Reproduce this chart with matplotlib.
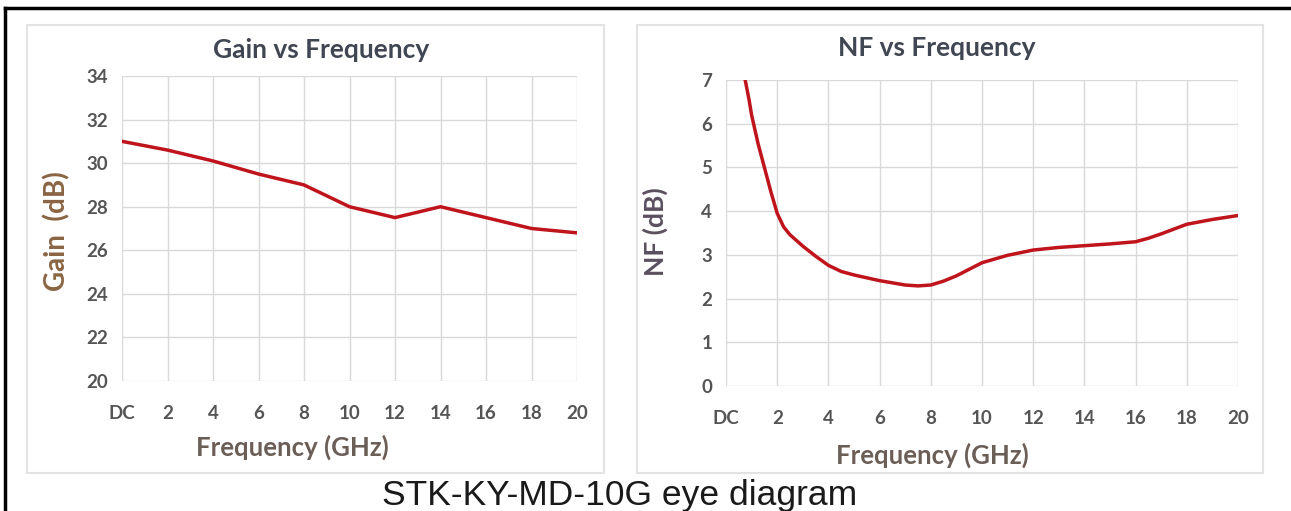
import matplotlib
matplotlib.use("Agg")
import matplotlib.pyplot as plt
from matplotlib.patches import Rectangle
from matplotlib.lines import Line2D

# ---- data ----
freq_ticks = [0, 2, 4, 6, 8, 10, 12, 14, 16, 18, 20]
freq_labels = ["DC", "2", "4", "6", "8", "10", "12", "14", "16", "18", "20"]

gain_freq = [0, 2, 4, 6, 8, 10, 12, 14, 16, 18, 20]
gain_db = [31.0, 30.6, 30.1, 29.5, 29.0, 28.0, 27.5, 28.0, 27.5, 27.0, 26.8]
gain_yticks = [20, 22, 24, 26, 28, 30, 32, 34]

nf_freq = [0.75, 0.9, 1.0, 1.25, 1.5, 1.75, 2.0, 2.25, 2.5, 3.0, 3.5, 4.0, 4.5, 5.0,
           6.0, 7.0, 7.5, 8.0, 8.5, 9.0, 10.0, 11.0, 12.0, 13.0, 14.0, 15.0,
           16.0, 16.5, 17.0, 18.0, 19.0, 20.0]
nf_db = [7.0, 6.55, 6.2, 5.55, 5.0, 4.45, 3.95, 3.64, 3.46, 3.2, 2.97, 2.76, 2.62, 2.54,
         2.41, 2.31, 2.29, 2.31, 2.4, 2.52, 2.82, 2.99, 3.11, 3.17, 3.21, 3.25,
         3.3, 3.38, 3.48, 3.7, 3.81, 3.9]
nf_yticks = [0, 1, 2, 3, 4, 5, 6, 7]

W, H = 1291, 511
fig = plt.figure(figsize=(W / 100, H / 100), dpi=100)
fig.patch.set_facecolor("white")

def fx(x):
    return x / W

def fy(y):
    return 1 - y / H

# black frame lines (top and left)
fig.add_artist(Line2D([fx(5), 1.0], [fy(8), fy(8)], color="black", lw=2.5, zorder=5))
fig.add_artist(Line2D([fx(5), fx(5)], [fy(8), 0.0], color="black", lw=2.5, zorder=5))

# panel borders
for (x0, y0, x1, y1) in [(27, 25, 604, 473), (637, 25, 1263, 473)]:
    fig.add_artist(Rectangle((fx(x0), fy(y1)), fx(x1 - x0), (y1 - y0) / H,
                             facecolor="none", edgecolor="#e3e3e3", lw=1.5,
                             zorder=-5))

TICK_C = "#555555"
TITLE_C = "#404652"
LABEL_C = "#6b5e57"
LINE_C = "#c0141c"
GRID_C = "#d9d9d9"
FONT = "Lato"

def style(ax, yticks, ylim):
    ax.set_xlim(0, 20)
    ax.set_ylim(*ylim)
    ax.set_xticks(freq_ticks)
    ax.set_xticklabels(freq_labels)
    ax.set_yticks(yticks)
    ax.grid(True, color=GRID_C, lw=1.0)
    ax.set_axisbelow(True)
    ax.patch.set_alpha(0)
    for s in ax.spines.values():
        s.set_visible(False)
    ax.tick_params(length=0, colors=TICK_C, labelsize=13.5)
    ax.tick_params(axis="x", pad=17)
    ax.tick_params(axis="y", pad=10)
    for lab in ax.get_xticklabels() + ax.get_yticklabels():
        lab.set_fontfamily(FONT)
        lab.set_fontweight("bold")

style_kw = dict(fontfamily=FONT, fontweight="bold")

# ---- Gain chart ----
ax1 = fig.add_axes([fx(122), fy(381), fx(577 - 122), (381 - 76) / H])
ax1.plot(gain_freq, gain_db, color=LINE_C, lw=2.5)
style(ax1, gain_yticks, (20, 34))
fig.text(fx(321), fy(50), "Gain vs Frequency", ha="center", va="center",
         fontsize=19, color=TITLE_C, **style_kw)
fig.text(fx(292), fy(447), "Frequency (GHz)", ha="center", va="center",
         fontsize=18.5, color=LABEL_C, **style_kw)
fig.text(fx(57), fy(231), "Gain  (dB)", ha="center", va="center", rotation=90,
         fontsize=20, color="#8a6543", **style_kw)

# ---- NF chart ----
ax2 = fig.add_axes([fx(726), fy(386), fx(1238 - 726), (386 - 80) / H])
ax2.plot(nf_freq, nf_db, color=LINE_C, lw=2.5)
style(ax2, nf_yticks, (0, 7))
fig.text(fx(937), fy(48), "NF vs Frequency", ha="center", va="center",
         fontsize=19, color=TITLE_C, **style_kw)
fig.text(fx(932), fy(455), "Frequency (GHz)", ha="center", va="center",
         fontsize=18.5, color=LABEL_C, **style_kw)
fig.text(fx(655), fy(232), "NF (dB)", ha="center", va="center", rotation=90,
         fontsize=19, color="#5a4f5e", **style_kw)

# bottom caption
fig.text(fx(620), fy(496), "STK-KY-MD-10G eye diagram", ha="center", va="center",
         fontsize=25.5, color="#1a1a1a", fontfamily="Liberation Sans")

fig.savefig("out.png", dpi=100)
